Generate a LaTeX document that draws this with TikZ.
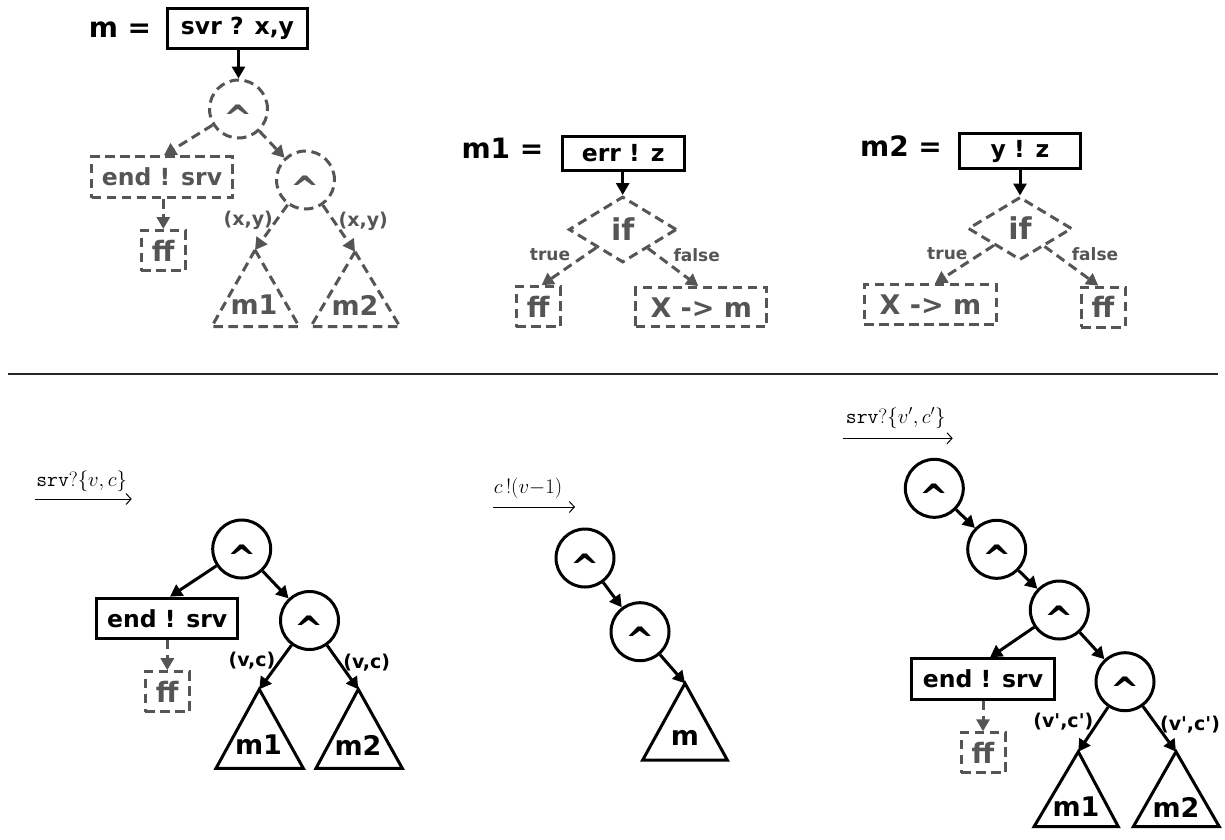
\documentclass[tikz,border=0pt]{standalone}
\usepackage{fontspec}
\newfontfamily\vb{DejaVu Sans}
\usetikzlibrary{arrows.meta,shapes.geometric}
\definecolor{dg}{HTML}{555555}
\newcommand{\mycaret}{\smash{\raisebox{-0.6em}{\textasciicircum}}}
\begin{document}
\begin{tikzpicture}[x=1pt,y=-1pt,
  txt/.style={inner sep=0pt, font=\vb\bfseries\fontsize{23.5}{25}\selectfont},
  big/.style={inner sep=0pt, font=\vb\bfseries\fontsize{28}{30}\selectfont},
  elbl/.style={inner sep=0pt, font=\vb\bfseries\fontsize{19}{21}\selectfont},
  tf/.style={inner sep=0pt, text=dg, font=\vb\bfseries\fontsize{17}{19}\selectfont},
  dsh/.style={draw=dg, text=dg, dash pattern=on 9.5pt off 5.5pt},
  sbox/.style={txt, draw, line width=3pt},
  dbox/.style={txt, line width=3pt, dsh},
  xbox/.style={dbox, font=\vb\bfseries\fontsize{27}{28}\selectfont},
  ffbox/.style={dbox, minimum width=44pt, minimum height=40pt, font=\vb\bfseries\fontsize{28}{28}\selectfont},
  scirc/.style={circle, draw, line width=3pt, minimum size=58pt, inner sep=0pt, font=\vb\bfseries\fontsize{35}{35}\selectfont},
  dcirc/.style={scirc, dsh},
  ddiam/.style={diamond, line width=3pt, dsh, inner sep=0pt, font=\vb\bfseries\fontsize{30}{30}\selectfont},
  sarr/.style={draw=black, line width=3pt, -{Triangle[length=12pt,width=13pt]}},
  darr/.style={sarr, dsh},
  stri/.style={draw, line width=3pt, line join=miter},
  dtri/.style={stri, dsh},
  tl/.style={inner sep=0pt, font=\vb\bfseries\fontsize{27}{28}\selectfont},
  msg/.style={inner sep=0pt, font=\fontsize{21}{24}\selectfont},
  marr/.style={line width=1pt, -{Straight Barb[length=5pt,width=11pt]}},
]
\useasboundingbox (0,0) rectangle (1225,839);

% ---------------- top left: m ----------------
\node[big, anchor=base] (tm) at (120,37.3) {m =};
\node[sbox, minimum width=140.6pt, minimum height=40.3pt] (b0) at (237.5,28.3) {svr ? x,y};
\node[dcirc] (a0) at (238.5,109) {\mycaret};
\node[dbox, minimum width=141pt, minimum height=41pt] (e0) at (162,177.2) {end ! srv};
\node[dcirc] (a1) at (305.5,180) {\mycaret};
\node[ffbox] (f0) at (163.3,250.5) {ff};
\coordinate (t1) at (255,250);
\coordinate (t2) at (355,251.7);
\draw[dtri] (t1) -- (299.3,326.7) -- (211.7,326.7) -- cycle;
\draw[dtri] (t2) -- (400,326.7) -- (310.7,326.7) -- cycle;
\node[tl, text=dg] (t1l) at (254,305) {m1};
\node[tl, text=dg] (t2l) at (355,305) {m2};
\node[elbl, text=dg] (xy1) at (248.3,220) {(x,y)};
\node[elbl, text=dg] (xy2) at (363.3,221.7) {(x,y)};
\draw[sarr] (b0.south -| a0) -- (a0);
\draw[darr] (a0) -- ([xshift=2pt]e0.north);
\draw[darr] (a0) -- (a1);
\draw[darr] (e0.south -| f0.north) -- (f0.north);
\draw[darr] (a1) -- (t1);
\draw[darr] (a1) -- (t2);

% ---------------- top middle: m1 ----------------
\node[big, anchor=base] (m1l) at (502.5,158.3) {m1 =};
\node[sbox, minimum width=122pt, minimum height=34pt] (b1) at (623.2,153.3) {err ! z};
\node[ddiam, minimum width=108pt, minimum height=66pt] (d1) at (622.7,229.5) {if};
\node[ffbox] (f1) at (538.3,306.7) {ff};
\node[xbox, minimum width=131pt, minimum height=39.3pt] (x1) at (701.3,307.2) {X -> m};
\node[tf] (tr1) at (550,255) {true};
\node[tf] (fa1) at (696.7,255) {false};
\draw[sarr] (b1.south -| d1.north) -- (d1.north);
\draw[darr] (d1) -- ([xshift=3.3pt]f1.north);
\draw[darr] (d1) -- ([xshift=-3pt]x1.north);

% ---------------- top right: m2 ----------------
\node[big, anchor=base] (m2l) at (901,156) {m2 =};
\node[sbox, minimum width=121pt, minimum height=35pt] (b2) at (1020,151) {y ! z};
\node[ddiam, minimum width=104pt, minimum height=63pt] (d2) at (1020,228.5) {if};
\node[xbox, minimum width=132.6pt, minimum height=39.7pt] (x2) at (930.5,304.7) {X -> m};
\node[ffbox] (f2) at (1103,307.2) {ff};
\node[tf] (tr2) at (947.3,254) {true};
\node[tf] (fa2) at (1095,254) {false};
\draw[sarr] (b2.south -| d2.north) -- (d2.north);
\draw[darr] (d2) -- ([xshift=4.5pt]x2.north);
\draw[darr] (d2) -- ([xshift=-4.7pt]f2.north);

% ---------------- separator ----------------
\coordinate (sepl) at (8,374);
\coordinate (sepr) at (1218,374);
\draw[line width=1.5pt, black!85] (sepl) -- (sepr);

% ---------------- bottom left ----------------
\node[msg] (L1) at (81.7,481) {$\texttt{srv}?\{v,c\}$};
\coordinate (p1) at (35,499);
\coordinate (p1e) at (131.7,499);
\draw[marr] (p1) -- (p1e);
\node[scirc] (A1) at (241.7,549) {\mycaret};
\node[sbox, minimum width=141.3pt, minimum height=40.3pt] (E1) at (167.2,618.3) {end ! srv};
\node[scirc] (A2) at (309.5,620.5) {\mycaret};
\node[ffbox] (F1) at (167.3,691.7) {ff};
\coordinate (u1) at (259.3,689.3);
\coordinate (u2) at (358.3,689.3);
\draw[stri] (u1) -- (303.3,768.3) -- (216,768.3) -- cycle;
\draw[stri] (u2) -- (402.3,768.3) -- (316,768.3) -- cycle;
\node[tl] (u1l) at (258.5,745) {m1};
\node[tl] (u2l) at (358,745) {m2};
\node[elbl] (vc1) at (252,660.7) {(v,c)};
\node[elbl] (vc2) at (366.7,662.7) {(v,c)};
\draw[sarr] (A1) -- ([xshift=2.8pt]E1.north);
\draw[sarr] (A1) -- (A2);
\draw[darr] (E1.south -| F1.north) -- (F1.north);
\draw[sarr] (A2) -- (u1);
\draw[sarr] (A2) -- (u2);

% ---------------- bottom middle ----------------
\node[msg] (L2) at (528,488) {$c\,!(v{-}1)$};
\coordinate (p2) at (493,507);
\coordinate (p2e) at (575,507);
\draw[marr] (p2) -- (p2e);
\node[scirc] (B1) at (585,558) {\mycaret};
\node[scirc] (B2) at (640,631.7) {\mycaret};
\coordinate (v1) at (685,683.3);
\draw[stri] (v1) -- (727.3,760) -- (642.7,760) -- cycle;
\node[tl] (v1l) at (685,738) {m};
\draw[sarr] (B1) -- (B2);
\draw[sarr] (B2) -- (v1);

% ---------------- bottom right ----------------
\node[msg] (L3) at (895.7,418) {$\texttt{srv}?\{v',c'\}$};
\coordinate (p3) at (843.3,438.3);
\coordinate (p3e) at (952.7,438.3);
\draw[marr] (p3) -- (p3e);
\node[scirc] (C1) at (934.3,488.3) {\mycaret};
\node[scirc] (C2) at (996.7,549.3) {\mycaret};
\node[scirc] (C3) at (1059.3,610) {\mycaret};
\node[sbox, minimum width=143pt, minimum height=40.3pt] (E2) at (983,679) {end ! srv};
\node[scirc] (C4) at (1125,681.7) {\mycaret};
\node[ffbox] (F2) at (983,752.8) {ff};
\coordinate (w1) at (1078.3,751.7);
\coordinate (w2) at (1176,751.7);
\draw[stri] (w1) -- (1118.3,826.7) -- (1034,826.7) -- cycle;
\draw[stri] (w2) -- (1219.3,826.7) -- (1133.3,826.7) -- cycle;
\node[tl] (w1l) at (1076,807) {m1};
\node[tl] (w2l) at (1176,807) {m2};
\node[elbl] (vc3) at (1063.3,721.7) {(v',c')};
\node[elbl] (vc4) at (1190,725) {(v',c')};
\draw[sarr] (C1) -- (C2);
\draw[sarr] (C2) -- (C3);
\draw[sarr] (C3) -- ([xshift=7pt]E2.north);
\draw[sarr] (C3) -- (C4);
\draw[darr] (E2.south -| F2.north) -- (F2.north);
\draw[sarr] (C4) -- (w1);
\draw[sarr] (C4) -- (w2);
\end{tikzpicture}
\end{document}
